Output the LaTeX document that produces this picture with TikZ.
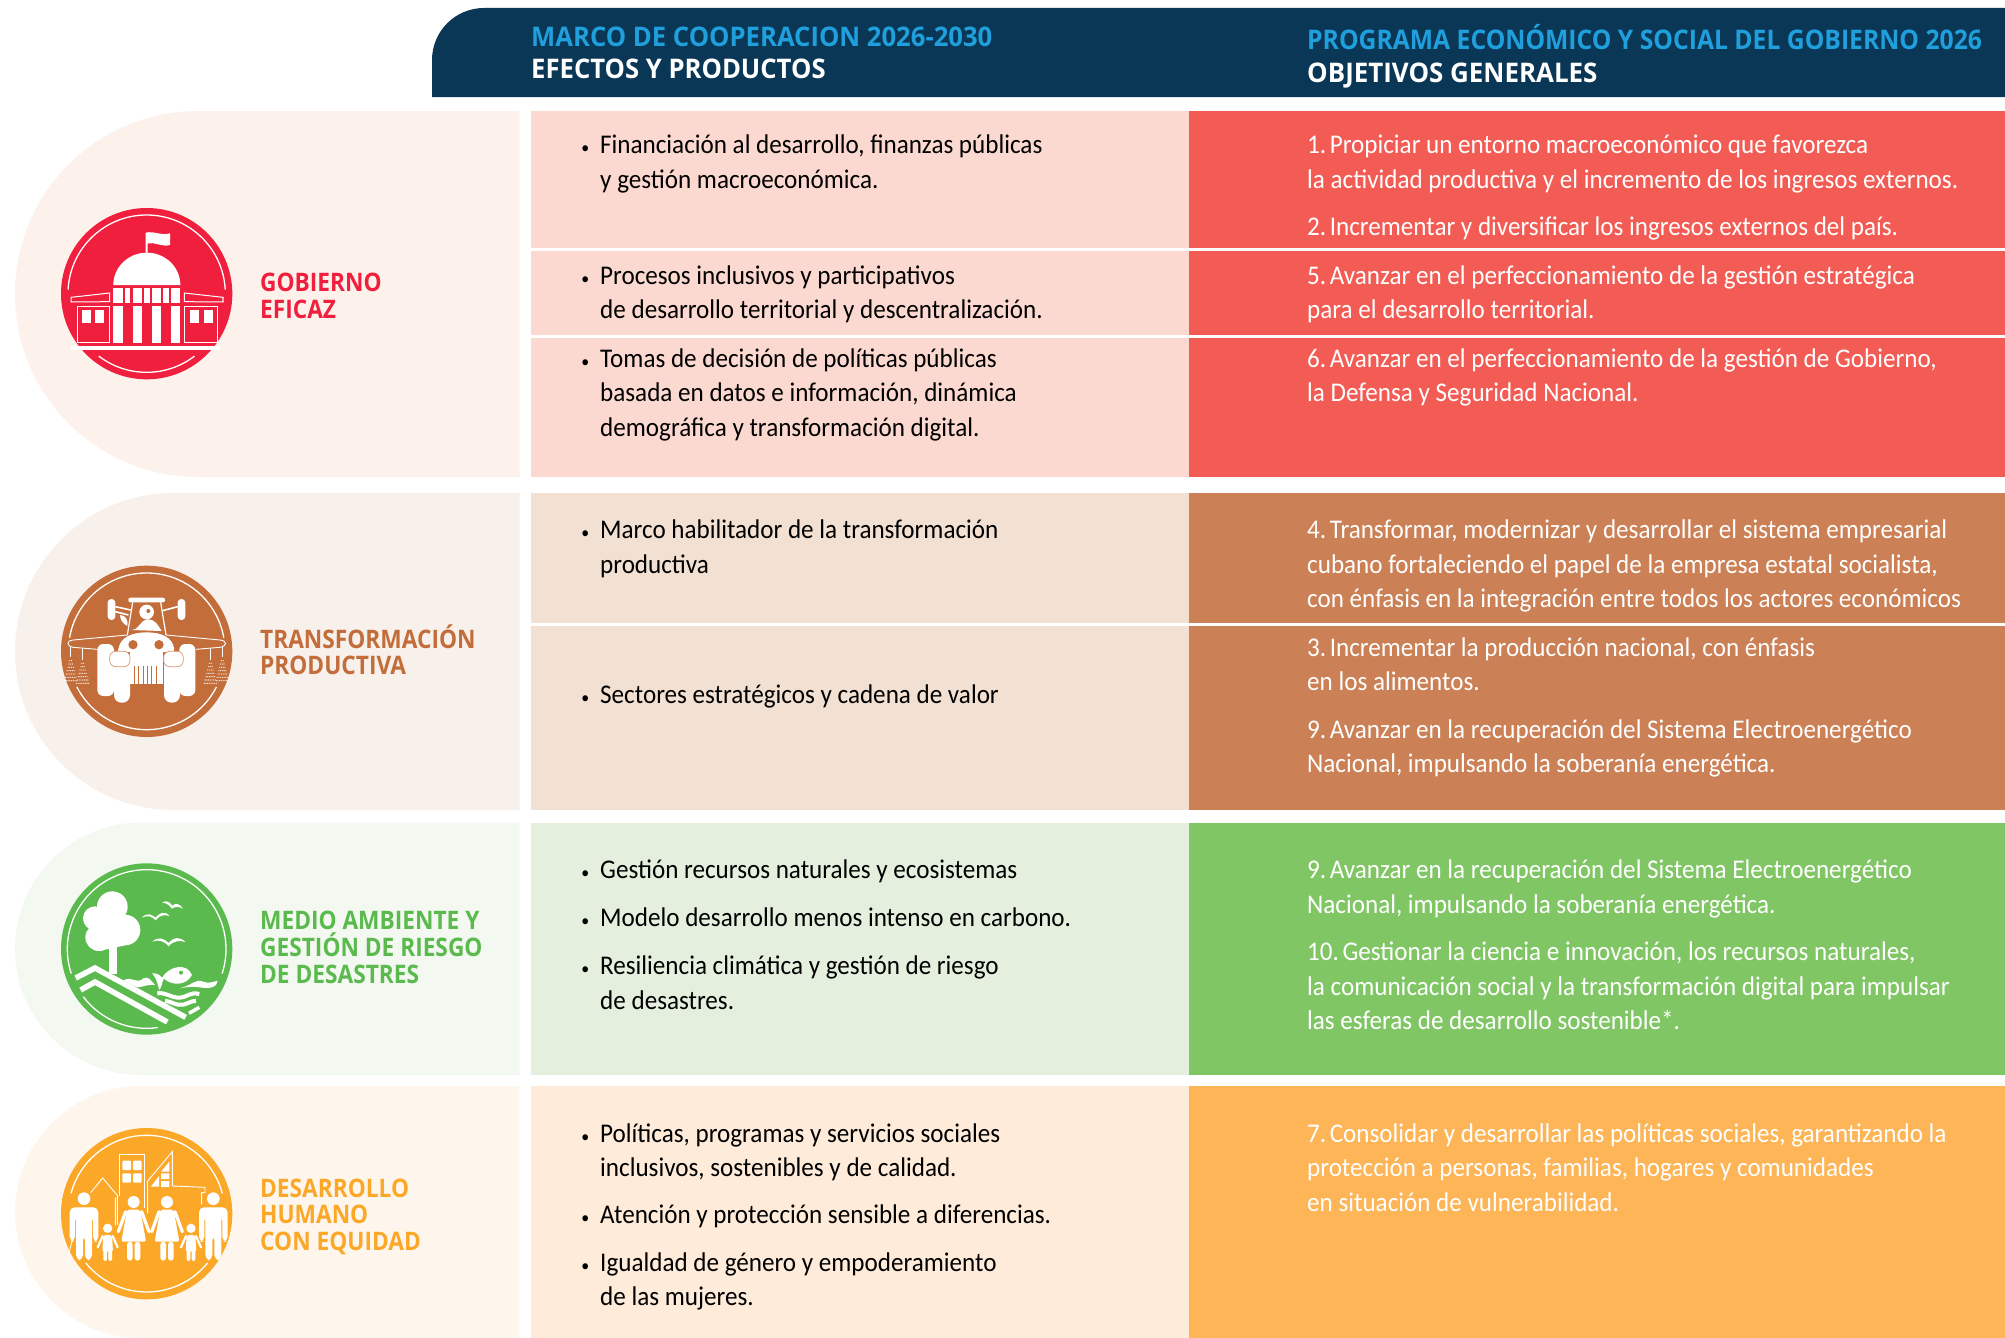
\documentclass[tikz,border=0pt]{standalone}
\usepackage{fontspec}
\setmainfont{Carlito}[FakeStretch=0.93]
\newfontfamily\hvy{Open Sans}[FakeStretch=0.89]
\newfontfamily\hvyA{Open Sans}[FakeStretch=0.95]
\newfontfamily\hvyB{Open Sans}[FakeStretch=0.915]
\newfontfamily\hvyC{Open Sans}[FakeStretch=0.96]
\definecolor{hdr}{HTML}{0B3757}
\definecolor{hblue}{HTML}{1F9FDC}
\definecolor{redI}{HTML}{F01F3E}\definecolor{redP}{HTML}{FDF1EB}\definecolor{redM}{HTML}{FCD9D0}\definecolor{redR}{HTML}{F25C54}
\definecolor{broI}{HTML}{C26D3A}\definecolor{broP}{HTML}{F8F0EA}\definecolor{broM}{HTML}{F2E0D2}\definecolor{broR}{HTML}{CB8055}
\definecolor{greI}{HTML}{5BBA4D}\definecolor{greP}{HTML}{F3F8F1}\definecolor{greM}{HTML}{E4EFDE}\definecolor{greR}{HTML}{80C665}
\definecolor{oraI}{HTML}{FBA829}\definecolor{oraP}{HTML}{FEF6EC}\definecolor{oraM}{HTML}{FEEBD9}\definecolor{oraR}{HTML}{FDB557}
\newcommand{\bul}{\strut\llap{{\fontsize{17}{17}\selectfont•}\hspace{11pt}}}
\newcommand{\nk}{\kern-4pt{}}
\tikzset{
 para/.style={anchor=north west,inner sep=0pt,align=left,yshift=24.15pt,font=\fontsize{27}{34.5}\selectfont,text=#1},
 para/.default=black,
 lbl/.style={anchor=north west,inner sep=0pt,align=left,yshift=18.76pt,font=\hvy\fontsize{25.5}{26.8}\selectfont\bfseries,text=#1},
 headA/.style={anchor=north west,inner sep=0pt,align=left,yshift=22.4pt,font=\hvyA\fontsize{27}{32}\selectfont\bfseries,text=white},
 headB/.style={anchor=north west,inner sep=0pt,align=left,yshift=23.31pt,font=\hvyB\fontsize{27}{33.3}\selectfont\bfseries,text=white},
 ring/.style={draw=white,line width=1.3pt},
 icon/.style={shift={#1},x=0.33333pt,y=-0.33333pt},
}
\newcommand{\pillshape}[4]{\fill[#1] (519.5,#2) -- (15+#4,#2) arc[start angle=-90,end angle=-270,radius=#4] -- (519.5,#3) -- cycle;}
\newcommand{\manfig}[1]{%
 \fill (#1,266) circle[radius=19];
 \fill[rounded corners=5pt] (#1-43,395) -- (#1-43,292) -- (#1+43,292) -- (#1+43,395) -- (#1+27,395) -- (#1+27,315) -- (#1+24,315) -- (#1+24,450) -- (#1+3,450) -- (#1+3,375) -- (#1-3,375) -- (#1-3,450) -- (#1-24,450) -- (#1-24,315) -- (#1-27,315) -- (#1-27,395) -- cycle;}
\newcommand{\womanfig}[1]{%
 \fill (#1,276) circle[radius=18];
 \fill[rounded corners=2pt] (#1-20,299) -- (#1+20,299) -- (#1+37,395) -- (#1-37,395) -- cycle;
 \fill[rounded corners=3pt] (#1-20,395) rectangle (#1-3,452);
 \fill[rounded corners=3pt] (#1+3,395) rectangle (#1+20,452);
 \draw[line width=3.2pt,line cap=round] (#1-24,305) -- (#1-46,365) (#1+24,305) -- (#1+46,365);}
\newcommand{\kidfig}[1]{%
 \fill (#1,355) circle[radius=14];
 \fill[rounded corners=2pt] (#1-13,375) -- (#1+13,375) -- (#1+16,425) -- (#1-16,425) -- cycle;
 \fill[rounded corners=2pt] (#1-13,420) rectangle (#1-2,453);
 \fill[rounded corners=2pt] (#1+2,420) rectangle (#1+13,453);
 \draw[line width=2.2pt,line cap=round] (#1-15,378) -- (#1-30,412) (#1+15,378) -- (#1+30,412);}
\newcommand{\sprayfig}[2]{%
 \foreach \r in {1,...,7}{\foreach \k in {0,...,\r}{%
  \fill[white,opacity=.85] (#1-\r*2.6+\k*5.2,#2+\r*10) circle[radius=2];}}}
\begin{document}
\begin{tikzpicture}[x=1pt,y=-1pt]
\useasboundingbox (0,0) rectangle (2005,1338);
\fill[white] (0,0) rectangle (2005,1338);
\fill[hdr] (432,97) -- (432,60) arc[start angle=180,end angle=270,radius=52] -- (2005,8) -- (2005,97) -- cycle;
\node[headA] (h1) at (531,46.5) {\strut{\color{hblue}MARCO DE COOPERACION 2026-2030}\\EFECTOS Y PRODUCTOS};
\node[headB] (h2) at (1307,47.5) {\strut{\color{hblue}PROGRAMA ECONÓMICO Y SOCIAL DEL GOBIERNO 2026}\\\hvyC OBJETIVOS GENERALES};
\pillshape{redP}{111}{477}{183}
\pillshape{broP}{493}{810}{158.5}
\pillshape{greP}{822.5}{1075}{126.25}
\pillshape{oraP}{1086}{1338}{126}
\fill[redM] (531,111) rectangle (1189,248);
\fill[redM] (531,251) rectangle (1189,335);
\fill[redM] (531,338) rectangle (1189,477);
\fill[broM] (531,493) rectangle (1189,623);
\fill[broM] (531,626) rectangle (1189,810);
\fill[greM] (531,822.5) rectangle (1189,1075);
\fill[oraM] (531,1086) rectangle (1189,1338);
\fill[redR] (1189,111) rectangle (2005,248);
\fill[redR] (1189,251) rectangle (2005,335);
\fill[redR] (1189,338) rectangle (2005,477);
\fill[broR] (1189,493) rectangle (2005,623);
\fill[broR] (1189,626) rectangle (2005,810);
\fill[greR] (1189,822.5) rectangle (2005,1075);
\fill[oraR] (1189,1086) rectangle (2005,1338);
\node[lbl=redI] (l1) at (260,291.5) {\strut GOBIERNO\\EFICAZ};
\node[lbl=broI] (l2) at (260,643) {\strut TRANSFORMACIÓN\\\smash{PRODUCTIVA}};
\node[lbl=greI] (l3) at (260,929.6) {\strut MEDIO AMBIENTE Y\\\smash{GESTIÓN DE RIESGO}\\DE DESASTRES};
\node[lbl=oraI] (l4) at (260,1196.9) {\strut DESARROLLO\\HUMANO\\CON EQUIDAD};
\node[para] (m1) at (600,153.4) {\bul Financiación al desarrollo, finanzas públicas\\y gestión macroeconómica.};
\node[para] (m2) at (600,283.9) {\bul Procesos inclusivos y participativos\\de desarrollo territorial y descentralización.};
\node[para] (m3) at (600,367) {\bul Tomas de decisión de políticas públicas\\basada en datos e información, dinámica\\demográfica y transformación digital.};
\node[para] (m4) at (600,538.3) {\bul Marco habilitador de la transformación\\productiva};
\node[para] (m5) at (600,703.3) {\bul Sectores estratégicos y cadena de valor};
\node[para] (m6) at (600,878.5) {\bul Gestión recursos naturales y ecosistemas};
\node[para] (m7) at (600,925.8) {\bul Modelo desarrollo menos intenso en carbono.};
\node[para] (m8) at (600,974.4) {\bul Resiliencia climática y gestión de riesgo\\de desastres.};
\node[para] (m9) at (600,1141.9) {\bul Políticas, programas y servicios sociales\\inclusivos, sostenibles y de calidad.};
\node[para] (m10) at (600,1223.7) {\bul Atención y protección sensible a diferencias.};
\node[para] (m11) at (600,1271) {\bul Igualdad de género y empoderamiento\\de las mujeres.};
\node[para=white] (r1) at (1307,153.4) {\strut 1.\nk{} Propiciar un entorno macroeconómico que favorezca\\la actividad productiva y el incremento de los ingresos externos.};
\node[para=white] (r2) at (1307,235.3) {\strut 2.\nk{} Incrementar y diversificar los ingresos externos del país.};
\node[para=white] (r3) at (1307,283.9) {\strut 5.\nk{} Avanzar en el perfeccionamiento de la gestión estratégica\\para el desarrollo territorial.};
\node[para=white] (r4) at (1307,367) {\strut 6.\nk{} Avanzar en el perfeccionamiento de la gestión de Gobierno,\\la Defensa y Seguridad Nacional.};
\node[para=white] (r5) at (1307,538.3) {\strut 4.\nk{} Transformar, modernizar y desarrollar el sistema empresarial\\cubano fortaleciendo el papel de la empresa estatal socialista,\\con énfasis en la integración entre todos los actores económicos};
\node[para=white] (r6) at (1307,656) {\strut 3.\nk{} Incrementar la producción nacional, con énfasis\\en los alimentos.};
\node[para=white] (r7) at (1307,737.8) {\strut 9.\nk{} Avanzar en la recuperación del Sistema Electroenergético\\Nacional, impulsando la soberanía energética.};
\node[para=white] (r8) at (1307,878.5) {\strut 9.\nk{} Avanzar en la recuperación del Sistema Electroenergético\\Nacional, impulsando la soberanía energética.};
\node[para=white] (r9) at (1307,960.3) {\strut 10.\nk{} Gestionar la ciencia e innovación, los recursos naturales,\\la comunicación social y la transformación digital para impulsar\\las esferas de desarrollo sostenible*.};
\node[para=white] (r10) at (1307,1141.9) {\strut 7.\nk{} Consolidar y desarrollar las políticas sociales, garantizando la\\protección a personas, familias, hogares y comunidades\\en situación de vulnerabilidad.};
\begin{scope}[icon={(40,190)}]
\fill[redI] (320,311) circle[radius=257];
\draw[ring] (320,311) ++(183:236) arc[start angle=183,end angle=357,radius=236];
\draw[ring] (320,311) ++(52.5:236) arc[start angle=52.5,end angle=127.5,radius=236];
\fill[white] (220,285) arc[start angle=180,end angle=360,x radius=100.5,y radius=97] -- cycle;
\fill[white] (317,188) -- (317,128) .. controls (340,122) and (365,138) .. (390,130) -- (390,165) .. controls (365,172) and (345,155) .. (323,160) -- (323,188) -- cycle;
\foreach \a/\b in {220/248,254/271,278/305,312/329,336/362,369/387,393/421} \fill[white] (\a,293) rectangle (\b,338);
\foreach \a/\b in {220/248,278/305,336/362,393/421} \fill[white] (\a,347) rectangle (\b,460);
\draw[white,line width=1pt] (93,322) -- (209,309) -- (209,335) -- (93,336) -- cycle (549,322) -- (433,309) -- (433,335) -- (549,336) -- cycle;
\draw[white,line width=1pt] (111,349) rectangle (207,457) (434,349) rectangle (531,457);
\foreach \a in {126,166,450,491} \fill[white] (\a,360) rectangle (\a+27,398);
\fill[white] (92,468) rectangle (540,479);
\end{scope}
\begin{scope}[icon={(40,550)}]
\fill[broI] (320,304) circle[radius=257];
\draw[ring] (320,304) ++(190:235) arc[start angle=190,end angle=350,radius=235];
\draw[ring] (320,304) ++(27:235) arc[start angle=27,end angle=153,radius=235];
\draw[white,line width=.9pt] (262,255) -- (100,270) .. controls (78,272) and (78,288) .. (100,292) -- (172,298);
\draw[white,line width=.9pt] (378,255) -- (540,270) .. controls (562,272) and (562,288) .. (540,292) -- (468,298);
\draw[white,line width=.9pt] (92,290) -- (92,322) (128,295) -- (128,330) (511,295) -- (511,330) (547,290) -- (547,322);
\sprayfig{92}{322}\sprayfig{128}{330}\sprayfig{511}{330}\sprayfig{547}{322}
\fill[white,rounded corners=3.6pt] (203,147) rectangle (226,210);
\fill[white,rounded corners=3.6pt] (413,147) rectangle (436,210);
\draw[white,line width=1.6pt] (226,170) -- (272,180) (226,185) -- (265,195) (413,170) -- (368,182);
\fill[white,rounded corners=2pt] (265,143) rectangle (375,157);
\draw[white,line width=1.2pt] (278,157) -- (262,255) (362,157) -- (378,255);
\fill[white] (320,186) circle[radius=22];
\fill[broI] (325,183) circle[radius=6];
\fill[white] (275,240) .. controls (300,238) and (298,212) .. (322,208) .. controls (350,208) and (355,230) .. (365,243) -- cycle;
\fill[white] (240,195) .. controls (260,195) and (265,215) .. (262,228) .. controls (250,222) and (240,210) .. (240,195) -- cycle;
\fill[white,rounded corners=6pt] (172,282) rectangle (222,438);
\fill[white,rounded corners=6pt] (418,282) rectangle (466,438);
\fill[white] (235,298) .. controls (240,262) and (275,247) .. (320,247) .. controls (365,247) and (398,262) .. (403,298) -- cycle;
\fill[white,rounded corners=7.5pt] (222,320) rectangle (270,458);
\fill[white,rounded corners=7.5pt] (372,320) rectangle (420,458);
\fill[white] (270,296) rectangle (370,402);
\fill[white] (235,296) rectangle (403,306);
\draw[broI,line width=.8pt] (283,348) -- (283,402) (296,348) -- (296,402) (309,348) -- (309,402) (322,348) -- (322,402) (335,348) -- (335,402) (348,348) -- (348,402);
\fill[broI] (279,284) circle[radius=14] (357,284) circle[radius=14];
\filldraw[fill=white,draw=broI!70!white,line width=.7pt,rounded corners=6pt] (209,350) -- (209,304) -- (270,304) -- (270,350) -- cycle;
\filldraw[fill=white,draw=broI!70!white,line width=.7pt,rounded corners=6pt] (371,350) -- (371,304) -- (430,304) -- (430,350) -- cycle;
\end{scope}
\begin{scope}[icon={(40,850)}]
\fill[greI] (320,297) circle[radius=257];
\draw[ring] (320,297) ++(162:238) arc[start angle=162,end angle=378,radius=238];
\draw[ring] (320,297) ++(82:238) arc[start angle=82,end angle=143,radius=238];
\fill[white] (217,170) circle[radius=46] (165,205) circle[radius=36] (255,240) circle[radius=46] (177,262) circle[radius=41] (210,225) circle[radius=50];
\fill[white] (177,303) -- (255,286) -- (255,240) -- (177,250) -- cycle;
\fill[white] (207,285) rectangle (232,372);
\fill[white] (305,203) .. controls (325,185) and (335,195) .. (347,203) .. controls (355,190) and (375,180) .. (388,198) .. controls (370,192) and (358,197) .. (347,211) .. controls (335,198) and (325,195) .. (305,203) -- cycle;
\fill[white] (366,158) .. controls (380,148) and (390,158) .. (397,167) .. controls (405,158) and (420,160) .. (429,176) .. controls (415,168) and (405,170) .. (396,176) .. controls (388,165) and (378,158) .. (366,158) -- cycle;
\fill[white] (337,275) .. controls (355,258) and (372,265) .. (386,279) .. controls (398,262) and (420,258) .. (436,276) .. controls (420,270) and (400,272) .. (386,289) .. controls (372,272) and (355,268) .. (337,275) -- cycle;
\draw[white,line width=5.5pt,line join=miter] (107,384) -- (165,354) -- (437,502);
\draw[white,line width=5.5pt,line join=miter] (122,420) -- (165,396) -- (382,516);
\fill[white] (250,392) .. controls (275,375) and (290,405) .. (310,385) .. controls (325,375) and (335,395) .. (345,405) .. controls (325,402) and (310,410) .. (295,412) .. controls (275,410) and (265,395) .. (250,392) -- cycle;
\fill[white] (366,383) .. controls (385,350) and (440,335) .. (456,375) .. controls (440,405) and (400,410) .. (372,386) .. controls (365,395) and (368,408) .. (358,420) .. controls (352,405) and (352,385) .. (336,370) .. controls (350,368) and (360,375) .. (366,383) -- cycle;
\fill[greI] (423,368) circle[radius=6];
\fill[white] (418,415) .. controls (460,405) and (465,385) .. (490,395) .. controls (505,402) and (520,395) .. (533,392) .. controls (530,405) and (525,412) .. (505,414) .. controls (480,415) and (470,405) .. (418,415) -- cycle;
\draw[white,line width=4pt] (352,430) .. controls (375,425) and (395,445) .. (420,443) .. controls (445,440) and (450,425) .. (478,432);
\draw[white,line width=4pt] (375,452) .. controls (395,455) and (410,468) .. (430,464) .. controls (445,460) and (455,452) .. (468,453);
\draw[white,line width=3.5pt] (447,490) -- (478,472);
\end{scope}
\begin{scope}[icon={(40,1110)}]
\fill[oraI] (320,311) circle[radius=257];
\draw[ring] (320,311) ++(195:235) arc[start angle=195,end angle=345,radius=235];
\draw[ring] (320,311) ++(39:235) arc[start angle=39,end angle=141,radius=235];
\draw[white,line width=.9pt] (238,258) -- (238,133) -- (313,133) -- (313,295);
\foreach \a/\b in {247/152,279/152,247/190,279/190} \fill[white,rounded corners=1pt] (\a,\b) rectangle (\a+26,\b+28);
\draw[white,line width=.9pt] (152,248) -- (188,204) -- (232,256) -- (232,345) (226,262) -- (226,345);
\draw[white,line width=.9pt] (323,310) -- (323,213) -- (397,125) -- (397,228) -- (495,232) -- (495,248) -- (485,248) -- (485,283);
\fill[white] (333,230) -- (357,198) -- (357,230) -- cycle (363,185) -- (388,155) -- (388,185) -- cycle;
\fill[white] (363,190) rectangle (388,207) (363,213) rectangle (388,231);
\begin{scope}[white]
\manfig{132}
\manfig{520}
\womanfig{281}
\womanfig{381}
\kidfig{203}
\kidfig{453}
\draw[line width=.8pt] (102,370) -- (80,455);
\end{scope}
\end{scope}
\end{tikzpicture}
\end{document}
